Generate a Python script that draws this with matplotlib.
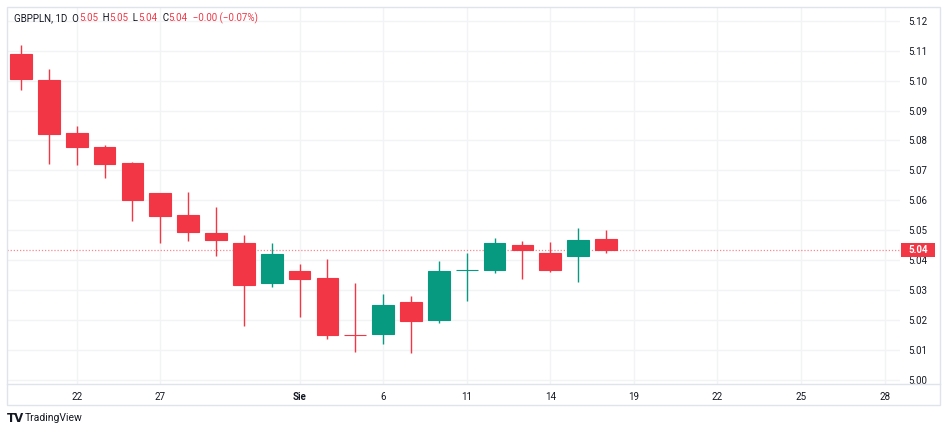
import matplotlib.pyplot as plt
import matplotlib.patches as mpatches
from matplotlib.lines import Line2D

plt.rcParams['font.family'] = ['Roboto', 'DejaVu Sans']

# daily GBPPLN candles
opens = [5.1090, 5.1003, 5.0826, 5.0777, 5.0723, 5.0623, 5.0549, 5.0490, 5.0458, 5.0322, 5.0363,
         5.0341, 5.0150, 5.0152, 5.0260, 5.0199, 5.0367, 5.0368, 5.0450, 5.0424, 5.0412, 5.0470]
highs = [5.1119, 5.1039, 5.0849, 5.0785, 5.0729, 5.0624, 5.0628, 5.0577, 5.0483, 5.0457, 5.0386,
         5.0402, 5.0322, 5.0286, 5.0280, 5.0397, 5.0424, 5.0474, 5.0464, 5.0460, 5.0506, 5.0500]
lows = [5.0969, 5.0722, 5.0719, 5.0673, 5.0531, 5.0458, 5.0462, 5.0414, 5.0179, 5.0309, 5.0211,
        5.0135, 5.0093, 5.0119, 5.0088, 5.0190, 5.0263, 5.0356, 5.0336, 5.0360, 5.0327, 5.0424]
closes = [5.1004, 5.0820, 5.0779, 5.0720, 5.0602, 5.0548, 5.0494, 5.0466, 5.0316, 5.0419, 5.0338,
          5.0148, 5.0149, 5.0249, 5.0197, 5.0364, 5.0367, 5.0458, 5.0433, 5.0368, 5.0467, 5.0434]

xtick_pos = [2, 5, 10, 13, 16, 19, 22, 25, 28, 31]
xtick_labels = ['22', '27', 'Sie', '6', '11', '14', '19', '22', '25', '28']
yticks = [5.00, 5.01, 5.02, 5.03, 5.04, 5.05, 5.06, 5.07, 5.08, 5.09, 5.10, 5.11, 5.12]

up_col = '#089981'
down_col = '#F23645'
grid_col = '#F2F3F5'
frame_col = '#E0E3EB'
text_col = '#131722'

W, H = 948, 433
fig = plt.figure(figsize=(W / 100, H / 100), dpi=100)
ax = fig.add_axes([7 / W, (H - 384) / H, (900 - 7) / W, (384 - 7) / H])

x = list(range(len(opens)))
cols = [up_col if c >= o else down_col for o, c in zip(opens, closes)]
ax.vlines(x, lows, highs, colors=cols, linewidth=1.0, zorder=3)
bottoms = [min(o, c) for o, c in zip(opens, closes)]
heights = [abs(c - o) for o, c in zip(opens, closes)]
ax.bar(x, heights, bottom=bottoms, width=0.78, color=cols, edgecolor=cols, linewidth=0.8, zorder=4)

# last price line
last = closes[-1]
ax.axhline(last, color=down_col, linestyle=(0, (1, 1.5)), linewidth=0.9, alpha=0.6, zorder=2)

ax.set_xlim(-0.5, 31.55)
ax.set_ylim(4.99853, 5.12462)
ax.set_xticks(xtick_pos)
ax.set_xticklabels(xtick_labels)
ax.get_xticklabels()[2].set_fontweight('bold')
ax.set_yticks(yticks)
ax.set_yticklabels(['%.2f' % v for v in yticks])
ax.yaxis.tick_right()
ax.tick_params(axis='both', length=0, labelsize=7, colors=text_col)
ax.tick_params(axis='y', pad=6)
ax.tick_params(axis='x', pad=6)
ax.grid(True, color=grid_col, linewidth=1.0, zorder=0)
for s in ax.spines.values():
    s.set_visible(False)

# price label on the right scale
ytr = ax.get_yaxis_transform()
box_h = 14 / 2990
ax.add_patch(mpatches.Rectangle((1.001, last - box_h / 2), 0.038, box_h, transform=ytr,
                                fc=down_col, ec='none', clip_on=False, zorder=6))
ax.text(1.02, last, '%.2f' % last, transform=ytr, ha='center', va='center', fontsize=7,
        fontweight='bold', color='white', zorder=7, clip_on=False)

# frame around chart + time scale
fig.patches.append(mpatches.Rectangle((7 / W, (H - 405) / H), (940 - 7) / W, (405 - 7) / H,
                                      transform=fig.transFigure, fill=False, ec=frame_col, lw=1.0))
fig.lines.append(Line2D([7 / W, 940 / W], [(H - 384) / H] * 2, transform=fig.transFigure,
                        color=frame_col, lw=1.0))

# header
hx, hy = 14 / W, (H - 18) / H
parts = [('GBPPLN, 1D  O', text_col), ('5.05', down_col), ('  H', text_col), ('5.05', down_col),
         ('  L', text_col), ('5.04', down_col), ('  C', text_col), ('5.04', down_col),
         ('  \u22120.00 (\u22120.07%)', down_col)]
fig.canvas.draw()
renderer = fig.canvas.get_renderer()
for txt, c in parts:
    t = fig.text(hx, hy, txt, fontsize=7, color=c, va='center', ha='left')
    bb = t.get_window_extent(renderer=renderer)
    hx += bb.width / W

# watermark
fig.text(7 / W, (H - 418) / H, 'TV', fontsize=8.5, fontweight='black', color=text_col, va='center',
         family='DejaVu Sans')
fig.text(25 / W, (H - 418) / H, 'TradingView', fontsize=7.5, color=text_col, va='center')

fig.savefig('out.png', dpi=100, facecolor='white')
